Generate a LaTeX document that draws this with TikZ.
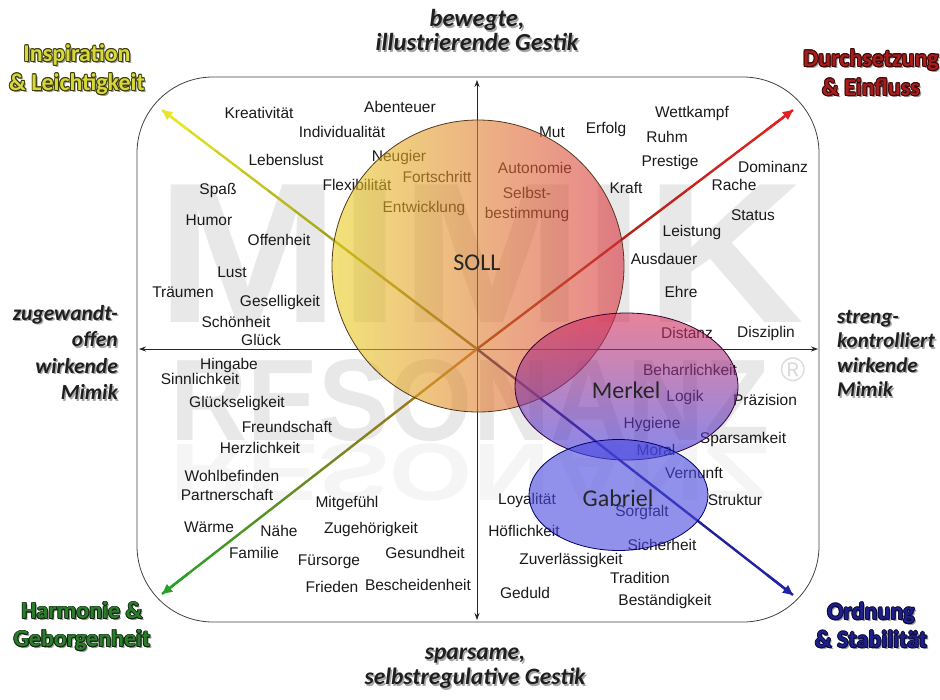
\documentclass[tikz,border=0pt]{standalone}
\usepackage{fontspec}
\setmainfont{Liberation Sans}
\newfontfamily\calibri{Carlito}
\usepackage{graphicx}
\usepackage{tikz}
\usetikzlibrary{arrows.meta,calc}

\definecolor{inspfill}{HTML}{D8D83A}
\definecolor{inspedge}{HTML}{3A3A08}
\definecolor{durchfill}{HTML}{A81C1C}
\definecolor{durchedge}{HTML}{380606}
\definecolor{harmfill}{HTML}{2C7C2C}
\definecolor{harmedge}{HTML}{0C260C}
\definecolor{ordfill}{HTML}{1E1E8C}
\definecolor{ordedge}{HTML}{0A0A36}
% line colours, near the middle and at the tip
\definecolor{inspnear}{HTML}{6E6A10}
\definecolor{inspfar}{HTML}{E6E628}
\definecolor{durchnear}{HTML}{8A2410}
\definecolor{durchfar}{HTML}{E02222}
\definecolor{harmnear}{HTML}{B8701A}
\definecolor{harmfar}{HTML}{28A028}
\definecolor{ordnear}{HTML}{1A1A70}
\definecolor{ordfar}{HTML}{2222A8}
% circle fills
\definecolor{sollleft}{HTML}{E8D020}
\definecolor{sollmid}{HTML}{E8A040}
\definecolor{sollright}{HTML}{D83040}
\definecolor{merkeltop}{HTML}{D83058}
\definecolor{merkelmid}{HTML}{5050E0}
\definecolor{merkelbot}{HTML}{3838E0}
\definecolor{gabrielfill}{HTML}{4848E0}

\newcommand\lblcopy[3]{\makebox[0pt][l]{\kern#1\raisebox{#2}{#3}}}
\newcommand\outlined[3]{%
  \lblcopy{1.8pt}{-1.8pt}{\textcolor{black!40}{#3}}%
  \lblcopy{-0.9pt}{0pt}{\textcolor{#2}{#3}}%
  \lblcopy{0.9pt}{0pt}{\textcolor{#2}{#3}}%
  \lblcopy{0pt}{0.9pt}{\textcolor{#2}{#3}}%
  \lblcopy{0pt}{-0.9pt}{\textcolor{#2}{#3}}%
  \lblcopy{-0.65pt}{0.65pt}{\textcolor{#2}{#3}}%
  \lblcopy{0.65pt}{0.65pt}{\textcolor{#2}{#3}}%
  \lblcopy{-0.65pt}{-0.65pt}{\textcolor{#2}{#3}}%
  \lblcopy{0.65pt}{-0.65pt}{\textcolor{#2}{#3}}%
  \textcolor{#1}{#3}}
\newcommand\shadowed[1]{\lblcopy{1.5pt}{-1.5pt}{\textcolor{black!35}{#1}}\textcolor{black!88}{#1}}

\tikzset{
  word/.style={font=\fontsize{15.5}{17}\selectfont, text=black!90, inner sep=0pt},
  person/.style={font=\calibri\fontsize{24}{26}\selectfont, text=black!85, inner sep=0pt},
  cornerlbl/.style={font=\calibri\bfseries\fontsize{24}{29}\selectfont, align=center, inner sep=0pt},
  sidelbl/.style={font=\calibri\bfseries\itshape\fontsize{21}{25}\selectfont, inner sep=0pt},
  gestlbl/.style={font=\calibri\bfseries\itshape\fontsize{24.5}{22}\selectfont, align=center, inner sep=0pt},
  watermark/.style={font=\bfseries, text=black!9, inner sep=0pt},
  axis/.style={line width=0.8pt, black!85, {Stealth[length=7pt,width=5pt]}-{Stealth[length=7pt,width=5pt]}},
  diag/.style={line width=2.4pt},
}

\begin{document}
\begin{tikzpicture}[x=1pt,y=-1pt]
\useasboundingbox (0,0) rectangle (940,699);
% Watermark
\node [watermark, anchor=base, font=\bfseries\fontsize{200}{200}\selectfont] (wm1) at (480,322) {\scalebox{1.1}[1]{MIMIK}};
\node [watermark, anchor=base, font=\bfseries\fontsize{116}{116}\selectfont] (wm2) at (470,440) {\scalebox{0.92}[1]{RESONANZ}};
\node [watermark, anchor=north, text=black!4, font=\bfseries\fontsize{116}{116}\selectfont] (wm3) at (470,444) {\scalebox{0.92}[-0.7]{RESONANZ}};
\node [watermark, text=black!14, font=\fontsize{34}{34}\selectfont] (reg) at (793,370) {\textregistered};
%
\draw [line width=0.8pt, black!75, rounded corners=76pt] (137,77) rectangle (819,622);
% Axis
\coordinate (o) at (477,349);
\coordinate (vtop) at (477,80);
\coordinate (vbot) at (477,620);
\coordinate (hleft) at (139,349);
\coordinate (hright) at (818,349);
\draw [axis] (vtop) -- (vbot);
\draw [axis] (hleft) -- (hright);
% Diagonals
\coordinate (tl) at (162,110);
\coordinate (tr) at (793,110);
\coordinate (bl) at (162,594);
\coordinate (br) at (793,595);
\foreach \tip/\near/\far in {tl/inspnear/inspfar, tr/durchnear/durchfar, bl/harmnear/harmfar, br/ordnear/ordfar}{
  \foreach \i in {0,...,11}{
    \pgfmathtruncatemacro\p{100-\i*100/11}
    \draw [diag, color=\near!\p!\far] ($(o)!\i/12!(\tip)$) -- ($(o)!{(\i+1)/12}!(\tip)$);
  }
  \draw [diag, color=\far, -{Triangle[open,length=10pt,width=9pt]}] ($(o)!11/12!(\tip)$) -- (\tip);
}
% Words, upper left
\node [word] (kreativ) at (259,113) {Kreativität};
\node [word] (abenteuer) at (400,107) {Abenteuer};
\node [word] (individ) at (342,132) {Individualität};
\node [word] (lebenslust) at (286,160) {Lebenslust};
\node [word] (neugier) at (399,157) {Neugier};
\node [word] (flexi) at (357,185) {Flexibilität};
\node [word] (fortschritt) at (437,177) {Fortschritt};
\node [word] (entwicklung) at (424,208) {Entwicklung};
\node [word] (spass) at (218,190) {Spaß};
\node [word] (humor) at (209,220) {Humor};
\node [word] (offenheit) at (279,240) {Offenheit};
\node [word] (lust) at (232,272) {Lust};
\node [word] (traeumen) at (183,292) {Träumen};
\node [word] (gesellig) at (280,302) {Geselligkeit};
\node [word] (schoenheit) at (236,322) {Schönheit};
\node [word] (glueck) at (261,340) {Glück};
% Words, upper right
\node [word] (mut) at (552,132) {Mut};
\node [word] (erfolg) at (606,129) {Erfolg};
\node [word] (wettkampf) at (692,113) {Wettkampf};
\node [word] (ruhm) at (667,137) {Ruhm};
\node [word] (prestige) at (670,162) {Prestige};
\node [word] (dominanz) at (773,167) {Dominanz};
\node [word] (kraft) at (626,188) {Kraft};
\node [word] (rache) at (734,185) {Rache};
\node [word] (autonomie) at (535,168) {Autonomie};
\node [word, align=center, font=\fontsize{15.5}{20}\selectfont] (selbst) at (527,204) {Selbst-\\bestimmung};
\node [word] (status) at (753,215) {Status};
\node [word] (leistung) at (692,232) {Leistung};
\node [word] (ausdauer) at (664,259) {Ausdauer};
\node [word] (ehre) at (681,292) {Ehre};
\node [word] (distanz) at (687,333) {Distanz};
\node [word] (disziplin) at (766,333) {Disziplin};
% Words, lower right
\node [word] (beharrlich) at (690,370) {Beharrlichkeit};
\node [word] (logik) at (685,397) {Logik};
\node [word] (praezision) at (765,400) {Präzision};
\node [word] (hygiene) at (652,424) {Hygiene};
\node [word] (sparsam) at (743,439) {Sparsamkeit};
\node [word] (moral) at (656,450) {Moral};
\node [word] (vernunft) at (694,473) {Vernunft};
\node [word] (loyal) at (527,500) {Loyalität};
\node [word] (struktur) at (735,500) {Struktur};
\node [word] (sorgfalt) at (642,512) {Sorgfalt};
\node [word] (hoeflich) at (524,531) {Höflichkeit};
\node [word] (sicherheit) at (662,545) {Sicherheit};
\node [word] (zuverl) at (571,560) {Zuverlässigkeit};
\node [word] (tradition) at (640,578) {Tradition};
\node [word] (geduld) at (525,593) {Geduld};
\node [word] (bestaendig) at (665,601) {Beständigkeit};
% Words, lower left
\node [word] (hingabe) at (229,365) {Hingabe};
\node [word] (sinnlich) at (200,379) {Sinnlichkeit};
\node [word] (glueckselig) at (237,403) {Glückseligkeit};
\node [word] (freundschaft) at (287,427) {Freundschaft};
\node [word] (herzlich) at (260,448) {Herzlichkeit};
\node [word] (wohlbefinden) at (232,476) {Wohlbefinden};
\node [word] (partner) at (227,495) {Partnerschaft};
\node [word] (mitgefuehl) at (347,503) {Mitgefühl};
\node [word] (waerme) at (209,527) {Wärme};
\node [word] (naehe) at (279,531) {Nähe};
\node [word] (zugehoerig) at (371,529) {Zugehörigkeit};
\node [word] (familie) at (254,553) {Familie};
\node [word] (fuersorge) at (329,562) {Fürsorge};
\node [word] (gesundheit) at (425,553) {Gesundheit};
\node [word] (frieden) at (332,587) {Frieden};
\node [word] (bescheiden) at (418,585) {Bescheidenheit};
% Profiles
\shade [left color=sollleft, middle color=sollmid, right color=sollright, fill opacity=0.6, draw=black!55!brown, line width=0.8pt] (478,266) circle [radius=146pt];
\shade [top color=merkeltop, middle color=merkelmid, bottom color=merkelbot, fill opacity=0.6, draw=black!60!violet, line width=0.8pt] (626.5,386.5) ellipse [x radius=111.5pt, y radius=73.5pt];
\fill [gabrielfill, fill opacity=0.6, draw=black!60!blue, draw opacity=1, line width=0.8pt] (618.5,495) ellipse [x radius=89.5pt, y radius=55.5pt];
\node [person] (soll) at (477,263) {SOLL};
\node [person] (merkel) at (626,390) {Merkel};
\node [person] (gabriel) at (618,498) {Gabriel};
% Corners
\node [cornerlbl] (insp) at (77,70) {\outlined{inspfill}{inspedge}{Inspiration}\\\outlined{inspfill}{inspedge}{\& Leichtigkeit}};
\node [cornerlbl] (durch) at (871,73) {\outlined{durchfill}{durchedge}{Durchsetzung}\\\outlined{durchfill}{durchedge}{\& Einfluss}};
\node [cornerlbl, font=\calibri\bfseries\fontsize{24}{28}\selectfont] (harm) at (82,627) {\outlined{harmfill}{harmedge}{Harmonie \&}\\\outlined{harmfill}{harmedge}{Geborgenheit}};
\node [cornerlbl, font=\calibri\bfseries\fontsize{24}{28}\selectfont] (ord) at (871,626) {\outlined{ordfill}{ordedge}{Ordnung}\\\outlined{ordfill}{ordedge}{\& Stabilität}};
% Sides
\node [gestlbl] (top) at (477,31) {\shadowed{bewegte,}\\\shadowed{illustrierende Gestik}};
\node [gestlbl, font=\calibri\bfseries\itshape\fontsize{23.5}{25}\selectfont] (bottom) at (475,669) {\shadowed{sparsame,}\\\shadowed{selbstregulative Gestik}};
\node [sidelbl, align=right, anchor=east, font=\calibri\bfseries\itshape\fontsize{21.5}{26.5}\selectfont] (left) at (118,353) {\shadowed{zugewandt-}\\\shadowed{offen}\\\shadowed{wirkende}\\\shadowed{Mimik}};
\node [sidelbl, align=left, anchor=west, font=\calibri\bfseries\itshape\fontsize{21}{24.5}\selectfont] (right) at (837,354) {\shadowed{streng-}\\\shadowed{kontrolliert}\\\shadowed{wirkende}\\\shadowed{Mimik}};
%
\end{tikzpicture}
\end{document}
